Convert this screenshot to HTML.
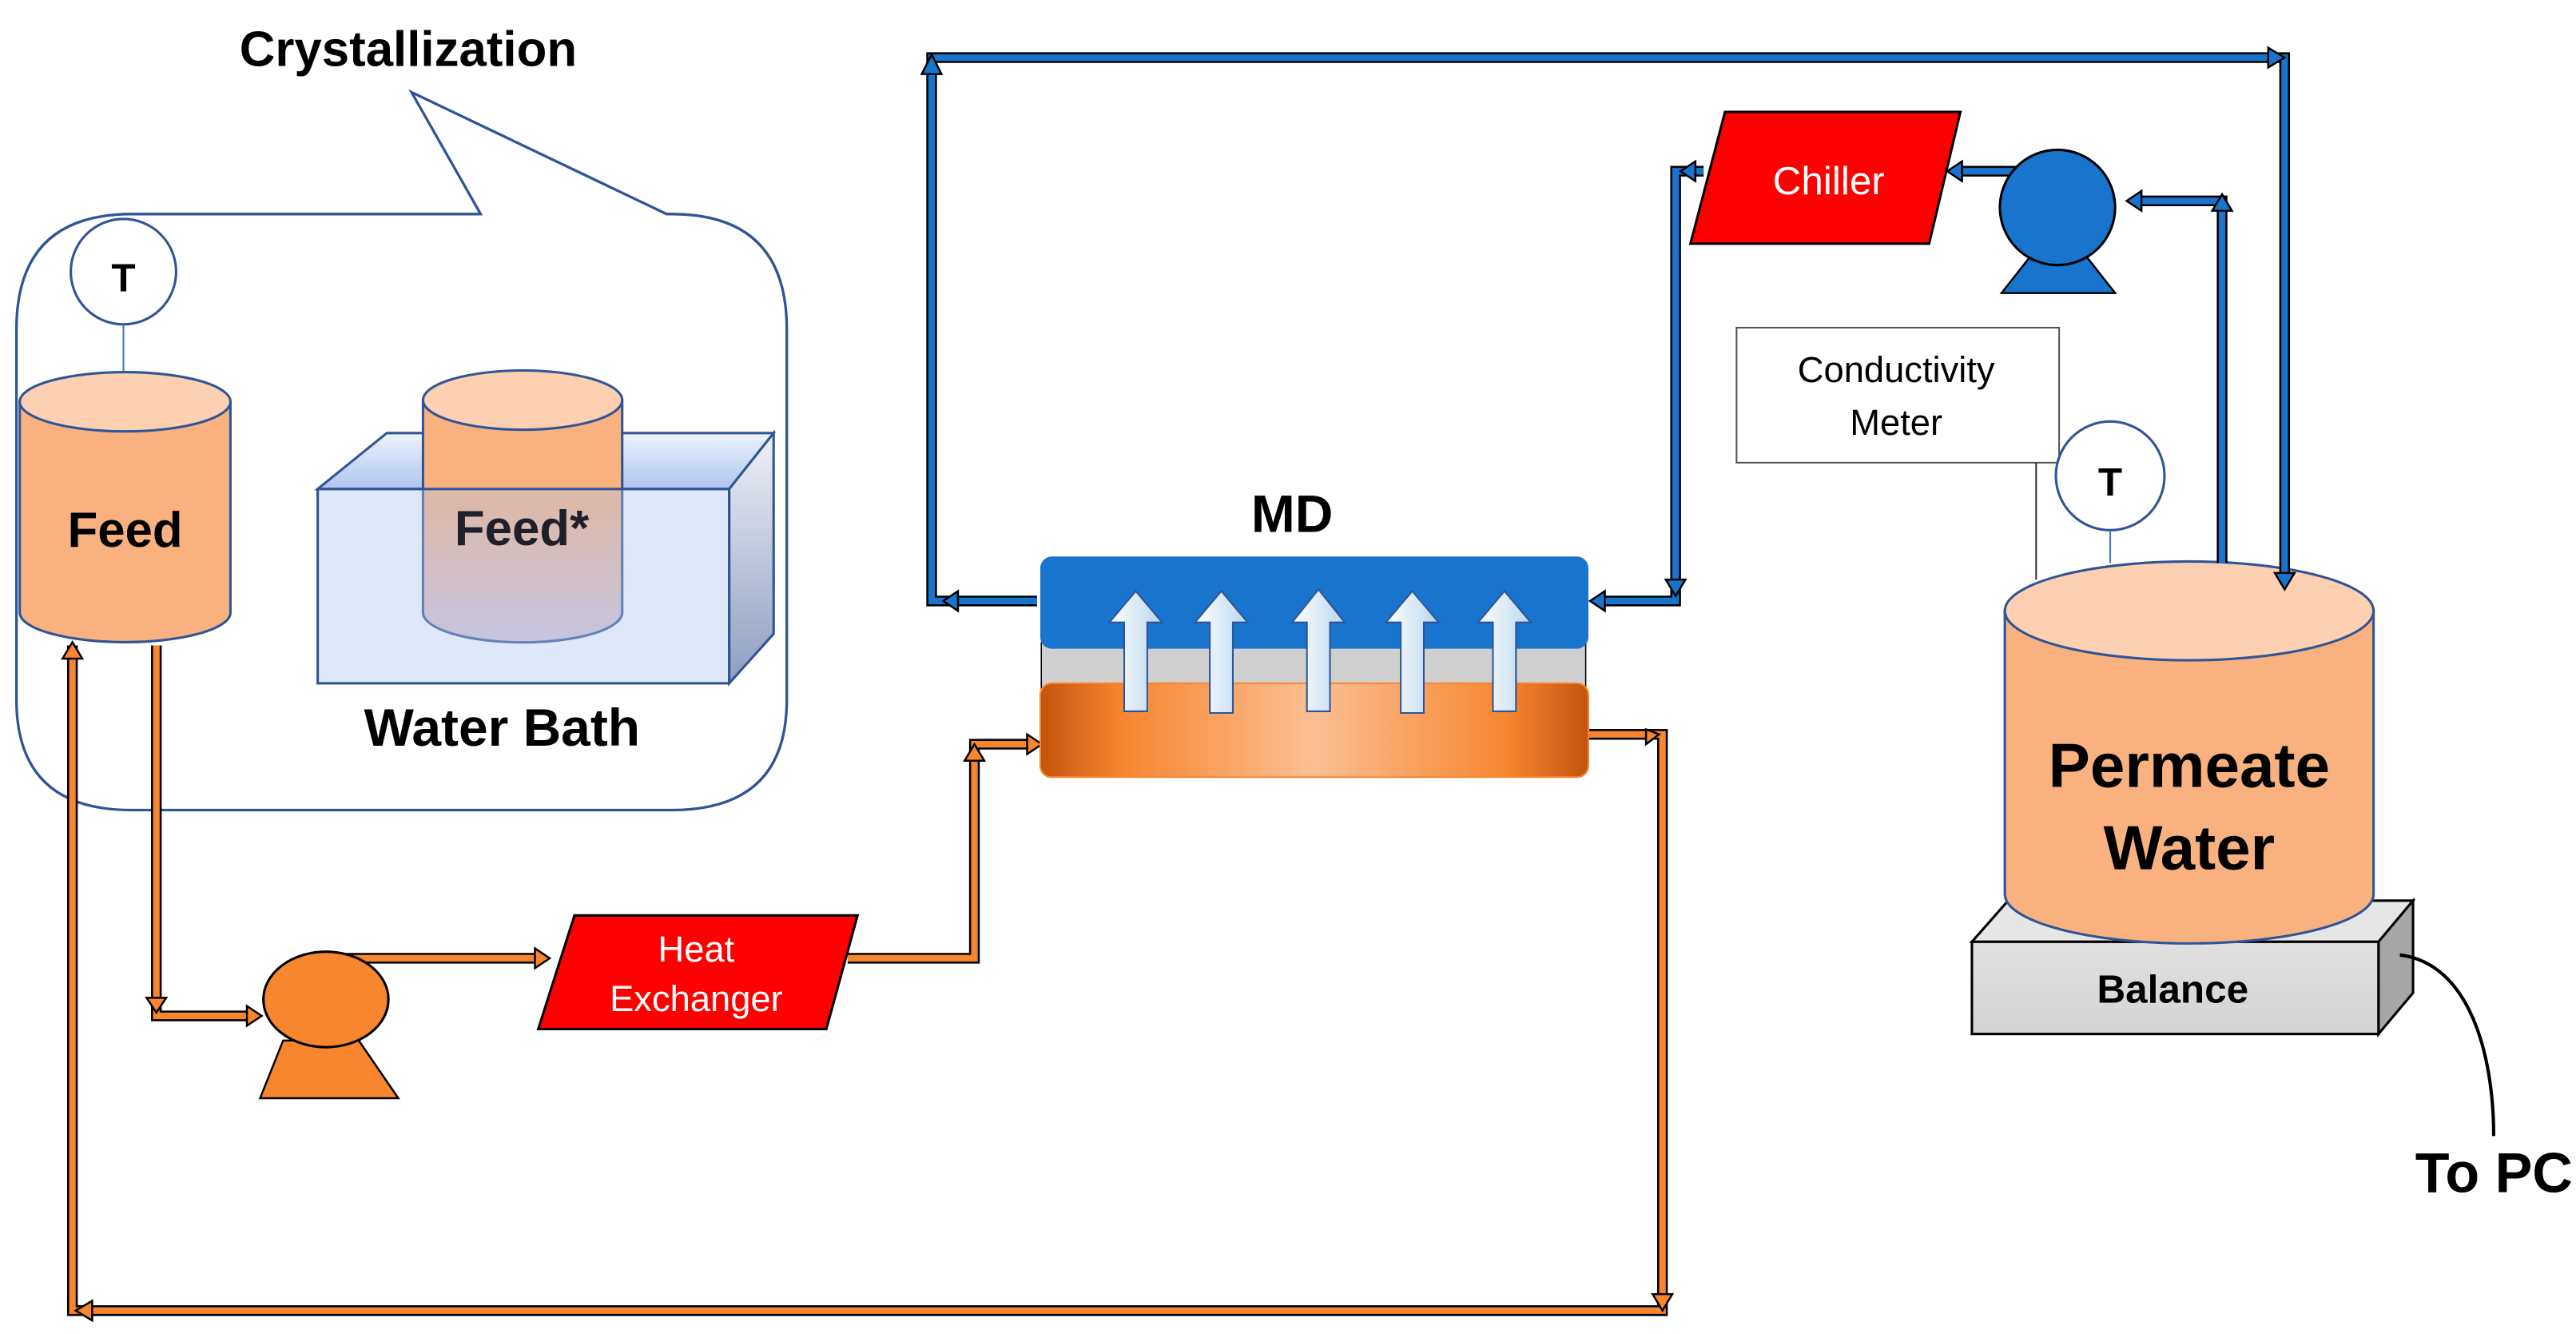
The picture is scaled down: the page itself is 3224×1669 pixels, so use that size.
<!DOCTYPE html>
<html><head><meta charset="utf-8"><style>
html,body{margin:0;padding:0;background:#fff;}
svg{display:block;}
text{font-family:"Liberation Sans",sans-serif;}
</style></head><body>
<svg width="3224" height="1669" viewBox="0 0 1565 810.2" preserveAspectRatio="none" xmlns="http://www.w3.org/2000/svg">
<defs>
<linearGradient id="bath" x1="0" y1="0" x2="0" y2="1"><stop offset="0" stop-color="#eef3fb"/><stop offset="1" stop-color="#aec5ef"/></linearGradient>
<linearGradient id="bathside" x1="0" y1="0" x2="0" y2="1"><stop offset="0" stop-color="#eef0f6"/><stop offset="1" stop-color="#8e9dbf"/></linearGradient>
<linearGradient id="feedstar" x1="0" y1="0" x2="0" y2="1"><stop offset="0" stop-color="#f9b27f"/><stop offset="0.45" stop-color="#f9b27f"/><stop offset="1" stop-color="#d6c4d6"/></linearGradient>
<linearGradient id="mdor" x1="0" y1="0" x2="1" y2="0"><stop offset="0" stop-color="#c4540e"/><stop offset="0.15" stop-color="#f7862f"/><stop offset="0.5" stop-color="#fbbf94"/><stop offset="0.85" stop-color="#f7862f"/><stop offset="1" stop-color="#c4540e"/></linearGradient>
<linearGradient id="arr" x1="0" y1="0" x2="1" y2="0"><stop offset="0" stop-color="#ffffff"/><stop offset="1" stop-color="#b9d6ee"/></linearGradient>
<linearGradient id="bal" x1="0" y1="0" x2="0" y2="1"><stop offset="0" stop-color="#e0e0e0"/><stop offset="1" stop-color="#d4d4d4"/></linearGradient>
</defs>

<text x="248" y="40" font-size="30" font-weight="bold" text-anchor="middle">Crystallization</text>
<path d="M80,130 L292,130 L250,56 L405,130 L408,130 Q478,130 478,200 L478,425 Q478,492 408,492 L80,492 Q10,492 10,425 L10,200 Q10,130 80,130 Z" fill="none" stroke="#2f5597" stroke-width="1.6"/>

<circle cx="75" cy="165" r="32" fill="#fff" stroke="#2f5597" stroke-width="1.5"/>
<text x="75" y="177" font-size="24" font-weight="bold" text-anchor="middle">T</text>
<line x1="75" y1="197" x2="75" y2="226" stroke="#4472c4" stroke-width="1"/>
<path d="M12,244 L12,372 A64,18 0 0 0 140,372 L140,244 Z" fill="#f9b27f" stroke="#2f5597" stroke-width="1.5"/>
<ellipse cx="76" cy="244" rx="64" ry="18" fill="#fcd0b0" stroke="#2f5597" stroke-width="1.5"/>
<text x="76" y="332" font-size="30" font-weight="bold" text-anchor="middle">Feed</text>

<polygon points="193,297 235,263 470,263 443,297" fill="url(#bath)" stroke="#2f5597" stroke-width="1.5"/>
<polygon points="443,297 470,263 470,385 443,415" fill="url(#bathside)" stroke="#2f5597" stroke-width="1.5"/>
<path d="M257,243 L257,372 A60,18 0 0 0 378,372 L378,243 Z" fill="url(#feedstar)" stroke="#2f5597" stroke-width="1.5"/>
<ellipse cx="317.5" cy="243" rx="60.5" ry="18" fill="#fcd0b0" stroke="#2f5597" stroke-width="1.5"/>
<rect x="193" y="297" width="250" height="118" fill="#aec5ef" fill-opacity="0.4" stroke="#2f5597" stroke-width="1.5"/>
<text x="317" y="331" font-size="30" font-weight="bold" text-anchor="middle" fill="#1f1f2a">Feed*</text>
<text x="305" y="453" font-size="32" font-weight="bold" text-anchor="middle">Water Bath</text>

<g fill="none" stroke-linejoin="miter">
<path d="M95,392 L95,617 L152,617" stroke="#000" stroke-width="6.5"/>
<path d="M95,392 L95,617 L152,617" stroke="#f7862f" stroke-width="4"/>
<path d="M210,582 L327,582" stroke="#000" stroke-width="6.5"/>
<path d="M210,582 L327,582" stroke="#f7862f" stroke-width="4"/>
<path d="M515,582 L592,582 L592,452 L626,452" stroke="#000" stroke-width="6.5"/>
<path d="M515,582 L592,582 L592,452 L626,452" stroke="#f7862f" stroke-width="4"/>
<path d="M965,446 L1010,446 L1010,796 L44,796 L44,392" stroke="#000" stroke-width="6.5"/>
<path d="M965,446 L1010,446 L1010,796 L44,796 L44,392" stroke="#f7862f" stroke-width="4"/>
</g>
<g fill="#f7862f" stroke="#000" stroke-width="1.2">
<polygon points="89,606 101,606 95,615"/>
<polygon points="150,611 159,617 150,623"/>
<polygon points="325,576 334,582 325,588"/>
<polygon points="586,462 598,462 592,452"/>
<polygon points="624,446 633,452 624,458"/>
<polygon points="1000,443 1008,446 1000,452"/>
<polygon points="1004,786 1016,786 1010,796"/>
<polygon points="56,790 46,796 56,802"/>
<polygon points="38,400 50,400 44,390"/>
</g>

<polygon points="172,632 218,632 242,667 158,667" fill="#f7862f" stroke="#000" stroke-width="1.2"/>
<ellipse cx="198" cy="607" rx="38" ry="29" fill="#f7862f" stroke="#000" stroke-width="1.5"/>

<polygon points="349,556 521,556 502,625 327,625" fill="#ff0000" stroke="#000" stroke-width="1.5"/>
<text x="423" y="584" font-size="22" fill="#fff" text-anchor="middle">Heat</text>
<text x="423" y="614" font-size="22" fill="#fff" text-anchor="middle">Exchanger</text>

<text x="785" y="323" font-size="32" font-weight="bold" text-anchor="middle">MD</text>
<line x1="633" y1="390" x2="633" y2="420" stroke="#000" stroke-width="1.5"/>
<line x1="963" y1="390" x2="963" y2="420" stroke="#000" stroke-width="1.5"/>
<rect x="633" y="390" width="330" height="32" fill="#cfcfcf"/>
<rect x="632" y="338" width="333" height="56" rx="7" fill="#1874cd"/>
<rect x="632" y="415" width="333" height="57" rx="7" fill="url(#mdor)" stroke="#f7862f" stroke-width="1"/>
<g fill="url(#arr)" stroke="#2f5597" stroke-width="1">
<polygon points="683,432 683,378 674,378 690,359 706,378 697,378 697,432"/>
<polygon points="735,433 735,378 726,378 742,359 758,378 749,378 749,433"/>
<polygon points="794,432 794,378 785,378 801,358 817,378 808,378 808,432"/>
<polygon points="851,433 851,378 842,378 858,359 874,378 865,378 865,433"/>
<polygon points="907,432 907,378 898,378 914,359 930,378 921,378 921,432"/>
</g>

<!-- Balance -->
<polygon points="1198,572 1220,547 1466,547 1445,572" fill="#e6e6e6" stroke="#000" stroke-width="1.5"/>
<polygon points="1445,572 1466,547 1466,603 1445,628" fill="#a6a6a6" stroke="#000" stroke-width="1.5"/>
<rect x="1198" y="572" width="247" height="56" fill="url(#bal)" stroke="#000" stroke-width="1.5"/>
<text x="1320" y="609" font-size="24" font-weight="bold" text-anchor="middle">Balance</text>
<path d="M1458,580 C1500,585 1515,640 1515,690" fill="none" stroke="#000" stroke-width="2"/>
<text x="1563" y="724" font-size="34" font-weight="bold" text-anchor="end">To PC</text>

<!-- Permeate tank -->
<path d="M1218,371 L1218,543 A112,30 0 0 0 1442,543 L1442,371 Z" fill="#f9b27f" stroke="#2f5597" stroke-width="1.5"/>
<ellipse cx="1330" cy="371" rx="112" ry="30" fill="#fcd0b0" stroke="#2f5597" stroke-width="1.5"/>
<text x="1330" y="478" font-size="38" font-weight="bold" text-anchor="middle">Permeate</text>
<text x="1330" y="528" font-size="38" font-weight="bold" text-anchor="middle">Water</text>

<!-- Blue pipes -->
<g fill="none">
<path d="M630,365 L566,365 L566,35 L1388,35 L1388,352" stroke="#000" stroke-width="6.5"/>
<path d="M630,365 L566,365 L566,35 L1388,35 L1388,352" stroke="#1874cd" stroke-width="4"/>
<path d="M1350,342 L1350,122 L1296,122" stroke="#000" stroke-width="6.5"/>
<path d="M1350,342 L1350,122 L1296,122" stroke="#1874cd" stroke-width="4"/>
<path d="M1240,104 L1187,104" stroke="#000" stroke-width="6.5"/>
<path d="M1240,104 L1187,104" stroke="#1874cd" stroke-width="4"/>
<path d="M1035,104 L1018,104 L1018,365 L973,365" stroke="#000" stroke-width="6.5"/>
<path d="M1035,104 L1018,104 L1018,365 L973,365" stroke="#1874cd" stroke-width="4"/>
</g>
<g fill="#1874cd" stroke="#000" stroke-width="1.2">
<polygon points="582,359 573,365 582,371"/>
<polygon points="560,45 572,45 566,33"/>
<polygon points="1378,29 1388,35 1378,41"/>
<polygon points="1382,348 1394,348 1388,358"/>
<polygon points="1344,128 1356,128 1350,118"/>
<polygon points="1301,116 1292,122 1301,128"/>
<polygon points="1192,98 1183,104 1192,110"/>
<polygon points="1030,98 1021,104 1030,110"/>
<polygon points="1012,352 1024,352 1018,362"/>
<polygon points="975,359 966,365 975,371"/>
</g>

<polygon points="1238,150 1263,150 1285,178 1216,178" fill="#1874cd" stroke="#000" stroke-width="1.2"/>
<circle cx="1250" cy="126" r="35" fill="#1874cd" stroke="#000" stroke-width="1.5"/>

<polygon points="1048,68 1191,68 1172,148 1027,148" fill="#ff0000" stroke="#000" stroke-width="1.5"/>
<text x="1111" y="118" font-size="24" fill="#fff" text-anchor="middle">Chiller</text>

<rect x="1055" y="199" width="196" height="82" fill="#fff" stroke="#555" stroke-width="1"/>
<text x="1152" y="232" font-size="22" text-anchor="middle">Conductivity</text>
<text x="1152" y="264" font-size="22" text-anchor="middle">Meter</text>
<line x1="1237" y1="281" x2="1237" y2="352" stroke="#333" stroke-width="1"/>

<circle cx="1282" cy="289" r="33" fill="#fff" stroke="#2f5597" stroke-width="1.5"/>
<text x="1282" y="301" font-size="24" font-weight="bold" text-anchor="middle">T</text>
<line x1="1282" y1="322" x2="1282" y2="342" stroke="#4472c4" stroke-width="1"/>
</svg>
</body></html>
